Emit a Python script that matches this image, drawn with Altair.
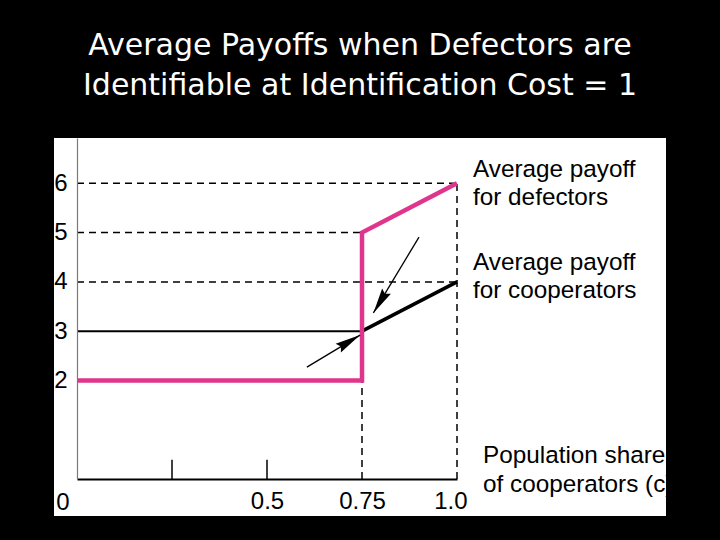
import altair as alt
import pandas as pd

# ---- data ----
defect_x = [0.0, 0.75, 0.75, 1.0]
defect_y = [2, 2, 5, 6]
coop_flat_x = [0.0, 0.75]
coop_flat_y = [3, 3]
coop_rise_x = [0.75, 1.0]
coop_rise_y = [3, 4]
hdash_y = [6, 5, 4]
hdash_xend = [1.0, 0.75, 1.0]
vdash_x = [0.75, 1.0]
vdash_ytop = [2, 6]
minor_ticks = [0.25, 0.5]
arrow1 = {"x": [0.90, 0.78], "y": [4.91, 3.37]}
arrow2 = {"x": [0.605, 0.745], "y": [2.27, 2.92]}
y_ticks = [2, 3, 4, 5, 6]
x_ticks = [0.5, 0.75, 1.0]
title_lines = ["Average Payoffs when Defectors are",
               "Identifiable at Identification Cost = 1"]
label_def = ["Average payoff", "for defectors"]
label_coop = ["Average payoff", "for cooperators"]
label_x = ["Population share", "of cooperators (c)"]

PINK = "#E0358C"
FONT = "Liberation Sans"

xs = alt.Scale(domain=[0, 1], nice=False, zero=False)
ys = alt.Scale(domain=[0, 6.92], nice=False, zero=False)

AX_X = alt.Axis(
    values=x_ticks, labelExpr="datum.value == 1 ? '1.0' : toString(datum.value)",
    ticks=False, grid=False, domainColor="black", domainWidth=2,
    labelColor="black", labelFont=FONT, labelFontSize=24, labelPadding=10,
    labelFlush=True, labelFlushOffset=10,
    title=None, zindex=1)
AX_Y = alt.Axis(
    values=y_ticks, ticks=False, grid=False, domainColor="#7a7a7a", domainWidth=1.2,
    labelColor="black", labelFont=FONT, labelFontSize=24, labelPadding=10,
    title=None, zindex=1)

X = lambda f: alt.X(f, type="quantitative", scale=xs, axis=AX_X)
Y = lambda f: alt.Y(f, type="quantitative", scale=ys, axis=AX_Y)

# white picture box
box = alt.Chart(pd.DataFrame({"a": [0]})).mark_rect(color="white").encode(
    x=alt.value(-23), x2=alt.value(589), y=alt.value(0), y2=alt.value(378))

hd = pd.DataFrame({"y": hdash_y, "x2": hdash_xend, "x": [0.0] * len(hdash_y)})
hdash = alt.Chart(hd).mark_rule(color="black", strokeWidth=1.5, strokeDash=[7, 5]).encode(
    x=X("x"), x2="x2", y=Y("y"))

vd = pd.DataFrame({"x": vdash_x, "y2": vdash_ytop, "y": [0] * len(vdash_x)})
vdash = alt.Chart(vd).mark_rule(color="black", strokeWidth=1.5, strokeDash=[7, 5]).encode(
    x=X("x"), y=Y("y"), y2="y2")

td = pd.DataFrame({"x": minor_ticks, "y": [0] * 2, "y2": [0.39] * 2})
ticks = alt.Chart(td).mark_rule(color="black", strokeWidth=1.5).encode(
    x=X("x"), y=Y("y"), y2="y2")

cf = pd.DataFrame({"x": coop_flat_x, "y": coop_flat_y})
coop_flat = alt.Chart(cf).mark_line(color="black", strokeWidth=2).encode(x=X("x"), y=Y("y"))
cr = pd.DataFrame({"x": coop_rise_x, "y": coop_rise_y})
coop_rise = alt.Chart(cr).mark_line(color="black", strokeWidth=3.5).encode(x=X("x"), y=Y("y"))

dd = pd.DataFrame({"x": defect_x, "y": defect_y, "o": list(range(len(defect_x)))})
defect = alt.Chart(dd).mark_line(color=PINK, strokeWidth=4.5, strokeJoin="miter").encode(
    x=X("x"), y=Y("y"), order="o:O")

HEAD = "M0,0L0.4,2L0,1.75L-0.4,2Z"

def arrow(a, angle):
    df = pd.DataFrame(a)
    shaft = alt.Chart(df).mark_line(color="black", strokeWidth=1.3).encode(x=X("x"), y=Y("y"))
    tip = pd.DataFrame({"x": [a["x"][-1]], "y": [a["y"][-1]]})
    head = alt.Chart(tip).mark_point(shape=HEAD, filled=True, color="black", opacity=1,
                                     size=650, angle=angle, strokeWidth=0).encode(
        x=X("x"), y=Y("y"))
    return shaft + head

arr1 = arrow(arrow1, 211)
arr2 = arrow(arrow2, 59)

zero_lbl = alt.Chart(pd.DataFrame({"x": [0.0], "t": ["0"]})).mark_text(
    font=FONT, fontSize=24, color="black", dx=-14, baseline="alphabetic").encode(
    x=X("x"), y=alt.value(372), text="t:N")

def text_block(lines, x, y0, step, **kw):
    layers = []
    for i, t in enumerate(lines):
        layers.append(alt.Chart(pd.DataFrame({"t": [t]})).mark_text(
            baseline="alphabetic", **kw).encode(
            x=alt.value(x), y=alt.value(y0 + i * step), text="t:N"))
    return alt.layer(*layers)

lab_def = text_block(label_def, 396, 39, 28, font=FONT, fontSize=24.3, color="black", align="left")
lab_coop = text_block(label_coop, 396, 132, 28, font=FONT, fontSize=24.3, color="black", align="left")
lab_x = text_block(label_x, 406, 325, 29, font=FONT, fontSize=24.3, color="black", align="left")
title = text_block(title_lines, 283, -83, 40, font="DejaVu Sans", fontSize=30,
                   color="white", align="center")

chart = alt.layer(
    box, hdash, vdash, ticks, coop_flat, coop_rise, defect, arr1, arr2,
    zero_lbl, lab_def, lab_coop, lab_x, title
).properties(
    width=380, height=341,
    padding={"left": 77, "top": 138, "right": 263, "bottom": 61},
    autosize=alt.AutoSizeParams(type="none"),
    background="black",
).configure_view(strokeWidth=0)

chart.save("out.html", embed_options={"renderer": "svg", "actions": False})
